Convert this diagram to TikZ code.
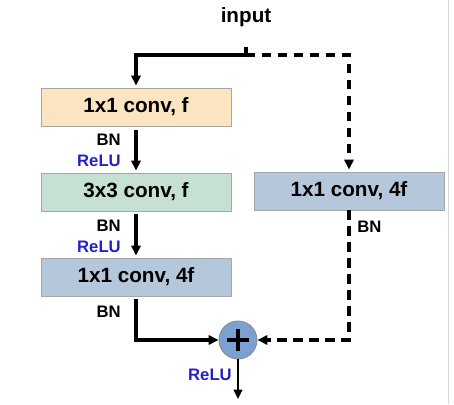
\documentclass[tikz,border=0pt]{standalone}
\usepackage{fontspec}
\setmainfont{Liberation Sans}
\usetikzlibrary{arrows.meta,positioning,calc}
\definecolor{convorange}{HTML}{FCE4C0}
\definecolor{convgreen}{HTML}{C6E0D3}
\definecolor{convblue}{HTML}{B5C7DA}
\definecolor{addblue}{HTML}{7BA0D2}
\definecolor{relublue}{HTML}{2222C8}

\begin{document}
\begin{tikzpicture}[x=0.75pt,y=-0.75pt,
  conv/.style={draw=black!35, line width=0.7pt, minimum width=142.5pt, minimum height=28.5pt,
    inner sep=0pt, font=\fontsize{15.5}{18}\selectfont\bfseries},
  lbl/.style={font=\fontsize{12.5}{14}\selectfont\bfseries, inner sep=0pt},
  relu/.style={lbl, text=relublue},
  main/.style={line width=2.5pt, -{Triangle[length=7.5pt,width=7pt]}, shorten >=1.5pt},
  skip/.style={main, dash pattern=on 7pt off 5pt}]
\useasboundingbox (0,0) rectangle (454,404);
\draw[black!15, line width=0.6pt] (448,0) -- (448,404);

% input and split
\node[font=\fontsize{15.5}{18}\selectfont\bfseries] (input) at (246,17) {input};
\coordinate (split) at (246,55);

% main branch
\node[conv, fill=convorange] (c1) at (136,107) {1x1 conv, f};
\node[conv, fill=convgreen] (c2) at (136,192) {3x3 conv, f};
\node[conv, fill=convblue] (c3) at (136,277) {1x1 conv, 4f};

% shortcut branch
\node[conv, fill=convblue] (sc) at (349,191) {1x1 conv, 4f};

% addition
\node[circle, draw=black!45, line width=0.7pt, fill=addblue, minimum size=28.5pt, inner sep=0pt] (add) at (238,340) {};
\draw[line width=2.6pt] ($(add.center)+(-11,0)$) -- ($(add.center)+(11,0)$)
  ($(add.center)+(0,-11)$) -- ($(add.center)+(0,11)$);
\coordinate (out) at (238,399);

% labels
\node[lbl, anchor=east] (bn1) at (121,140) {BN};
\node[relu, anchor=east] (relu1) at (121,161) {ReLU};
\node[lbl, anchor=east] (bn2) at (121,226) {BN};
\node[relu, anchor=east] (relu2) at (121,247) {ReLU};
\node[lbl, anchor=east] (bn3) at (121,312) {BN};
\node[lbl, anchor=west] (bn4) at (357,227) {BN};
\node[relu, anchor=east] (relu3) at (232,375) {ReLU};

% connectors
\draw[line width=2.5pt, shorten <=12pt] (input.south) -- (split);
\draw[main] (split) -| (c1.north);
\draw[skip] (split) -| (sc.north);
\draw[main, shorten <=3pt] (c1.south) -- (c2.north);
\draw[main, shorten <=2.25pt] (c2.south) -- (c3.north);
\draw[main, shorten <=2.25pt, shorten >=0pt] (c3.south) |- (add.west);
\draw[skip, shorten >=0pt] (sc.south) |- (add.east);
\draw[line width=1.6pt, -{Triangle[length=7pt,width=6.5pt]}] (add.south) -- (out);
\end{tikzpicture}
\end{document}
